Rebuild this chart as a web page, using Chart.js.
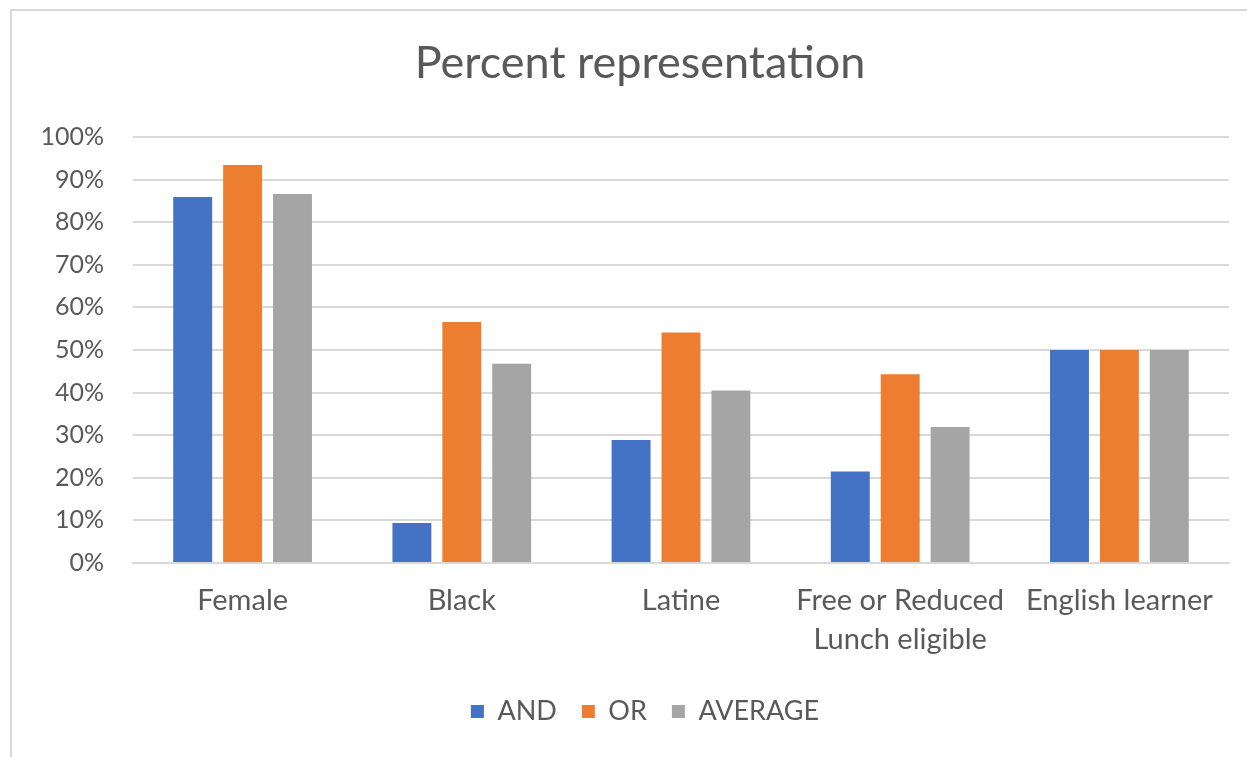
<!DOCTYPE html>
<html>
<head>
<meta charset="utf-8">
<title>Percent representation</title>
<script src="https://cdn.jsdelivr.net/npm/chart.js@4.4.1/dist/chart.umd.min.js"></script>
<style>
  html, body { margin: 0; padding: 0; background: #fff; overflow: hidden; }
  #frame {
    position: absolute; left: 10px; top: 9px;
    width: 1280px; height: 760px;
    border-top: 2px solid #d9d9d9; border-left: 2px solid #d9d9d9;
  }
  #wrap { position: absolute; left: 0; top: 0; width: 1266px; height: 746px; }
</style>
</head>
<body>
<div id="frame"><div id="wrap"><canvas id="chart"></canvas></div></div>
<script>
// Groups along the x axis
const categories = ['Female', 'Black', 'Latine', ['Free or Reduced', 'Lunch eligible'], 'English learner'];

// Share of each group, in percent
const andValues = [85.9, 9.4, 28.9, 21.5, 50];
const orValues = [93.4, 56.6, 54.1, 44.3, 50];
const averageValues = [86.6, 46.8, 40.5, 31.9, 50];

// Y axis ticks, in percent
const yTicks = [0, 10, 20, 30, 40, 50, 60, 70, 80, 90, 100];

const textColor = '#595959';
const fontFamily = 'Lato, "Open Sans", sans-serif';

// Centre the title and legend across the whole canvas rather than the padded area
const centerBlocks = {
  id: 'centerBlocks',
  afterLayout(chart) {
    const w = chart.width;
    const t = chart.titleBlock;
    if (t) { t.left = 0; t.right = w - 10; t.width = w - 10; }
    const l = chart.legend;
    if (l) { l.left = 0; l.right = w; l.width = w; l.top -= 4; l.bottom -= 4; }
  }
};

new Chart(document.getElementById('chart'), {
  type: 'bar',
  data: {
    labels: categories,
    datasets: [
      { label: 'AND', data: andValues, backgroundColor: '#4472C4' },
      { label: 'OR', data: orValues, backgroundColor: '#ED7D31' },
      { label: 'AVERAGE', data: averageValues, backgroundColor: '#A5A5A5' }
    ]
  },
  plugins: [centerBlocks],
  options: {
    responsive: true,
    maintainAspectRatio: false,
    animation: false,
    datasets: { bar: { categoryPercentage: 0.683, barPercentage: 0.78 } },
    layout: { padding: { left: 0, right: 49, top: 25, bottom: 18 } },
    plugins: {
      title: {
        display: true,
        text: 'Percent representation',
        color: textColor,
        font: { family: fontFamily, size: 45, weight: 'normal' },
        padding: { top: 0, bottom: 47 }
      },
      legend: {
        position: 'bottom',
        labels: {
          color: textColor,
          font: { family: fontFamily, size: 27 },
          boxWidth: 13, boxHeight: 13,
          padding: 25
        }
      },
      tooltip: { enabled: false }
    },
    scales: {
      x: {
        grid: { display: false, drawTicks: false },
        border: { color: '#d9d9d9', width: 2 },
        ticks: {
          color: textColor,
          font: { family: fontFamily, size: 29, lineHeight: 1.345 },
          maxRotation: 0, autoSkip: false, padding: 18
        }
      },
      y: {
        min: 0, max: 100,
        afterBuildTicks: (axis) => { axis.ticks = yTicks.map(v => ({ value: v })); },
        afterFit: (axis) => { axis.width = 121; },
        grid: { color: '#d9d9d9', lineWidth: 2, drawTicks: false },
        border: { display: false },
        ticks: {
          color: textColor,
          font: { family: fontFamily, size: 25 },
          padding: 29,
          callback: (v) => v + '%'
        }
      }
    }
  }
});
</script>
</body>
</html>
